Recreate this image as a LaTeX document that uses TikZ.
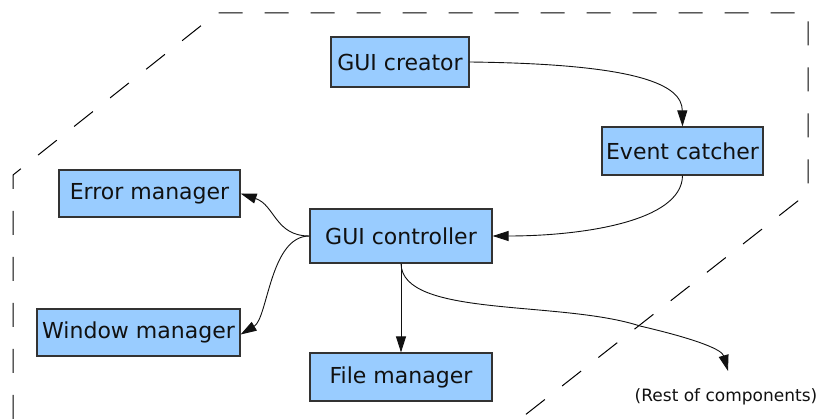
\documentclass[tikz,border=0pt]{standalone}
\usepackage{fontspec}
\setmainfont{DejaVu Sans}
\usetikzlibrary{arrows.meta}
\definecolor{boxfill}{HTML}{99CCFF}
\definecolor{boxline}{HTML}{333333}
\definecolor{txt}{HTML}{111111}
\begin{document}
\begin{tikzpicture}[x=1pt,y=-1pt,
  comp/.style={draw=boxline,fill=boxfill,line width=1.2pt,inner sep=0pt,
    text=txt,font=\fontsize{22}{24}\selectfont},
  conn/.style={draw=txt,line width=0.9pt,-{Triangle[length=16pt,width=10pt]}},
  boundary/.style={draw=black,line width=1pt,dash pattern=on 24pt off 22pt}]
\useasboundingbox (0,0) rectangle (822,419);
\node[comp,minimum width=138pt,minimum height=50pt] (creator) at (400,62) {GUI creator};
\node[comp,minimum width=161pt,minimum height=48pt] (event) at (682.5,151) {Event catcher};
\node[comp,minimum width=181pt,minimum height=47pt] (error) at (149.5,193.5) {Error manager};
\node[comp,minimum width=182pt,minimum height=54pt] (ctrl) at (401,236) {GUI controller};
\node[comp,minimum width=203pt,minimum height=47pt] (window) at (138.5,332.5) {Window manager};
\node[comp,minimum width=182pt,minimum height=48pt] (file) at (401,377) {File manager};
\node[text=txt,font=\fontsize{17}{20}\selectfont,inner sep=0pt] (rest) at (726,397) {(Rest of components)};
\coordinate (restin) at (728,371);
% boundary
\draw[boundary] (13,419) -- (13,175) -- (217,13) -- (808,13) -- (808,193) -- (520,419);
% connectors
\draw[conn] (creator.east) .. controls (640,64) and (682,85) .. (event.north);
\draw[conn] (event.south) .. controls (682,222) and (580,236) .. (ctrl.east);
\draw[conn] (ctrl.west) .. controls (275,236) and (275,205) .. (error.east);
\draw[conn] (ctrl.west) .. controls (270,236) and (268,318) .. ([yshift=-2pt]window.east);
\draw[conn] (ctrl.south) -- (file.north);
\draw[conn] (ctrl.south) .. controls (402,318) and (560,300) .. (640,326) .. controls (700,340) and (722,350) .. (restin);
\end{tikzpicture}
\end{document}
